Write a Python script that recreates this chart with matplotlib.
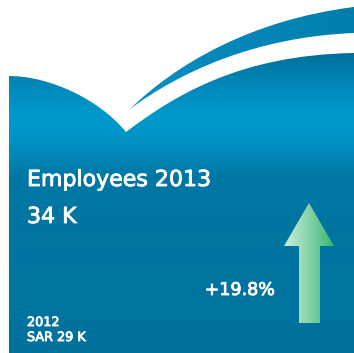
import numpy as np
import matplotlib
matplotlib.use("Agg")
import matplotlib.pyplot as plt
import matplotlib.patheffects as pe
from matplotlib.path import Path
from matplotlib.patches import PathPatch
from matplotlib.colors import LinearSegmentedColormap

# Headline figures
metric_label = "Employees"
current_year = 2013
previous_year = 2012
current_value_k = 34
previous_value_k = 29
growth_pct = 19.8

W, H = 354, 353
fig = plt.figure(figsize=(W / 100, H / 100), dpi=100)
ax = fig.add_axes([0, 0, 1, 1])
ax.set_xlim(0, W)
ax.set_ylim(H, 0)
ax.axis("off")
fig.patch.set_facecolor("white")

# Main panel with curved top edge and notch
panel_verts = [
    (9, 353), (9, 76),
    (50, 76), (100, 100), (126, 132),
    (175, 95), (240, 55), (354, 53),
    (354, 353), (9, 353),
]
panel_codes = [Path.MOVETO, Path.LINETO,
               Path.CURVE4, Path.CURVE4, Path.CURVE4,
               Path.CURVE4, Path.CURVE4, Path.CURVE4,
               Path.LINETO, Path.CLOSEPOLY]
panel_path = Path(panel_verts, panel_codes)
panel_patch = PathPatch(panel_path, facecolor="none", edgecolor="none")
ax.add_patch(panel_patch)

stops = [(0.0, "#006e98"), (0.10, "#0085b6"), (0.22, "#009ace"),
         (0.30, "#0092c4"), (0.42, "#0077a3"), (1.0, "#00729d")]
panel_cmap = LinearSegmentedColormap.from_list("panel", stops)
ys = np.linspace(0, 1, 400).reshape(-1, 1)
img = ax.imshow(ys, cmap=panel_cmap, extent=(9, 354, 353, 50),
                aspect="auto", interpolation="bilinear", zorder=1)
img.set_clip_path(panel_patch)

# Upper swoosh
swoosh_verts = [
    (130, 109),
    (175, 65), (250, 20), (354, 7),
    (354, 33),
    (255, 37), (180, 72), (130, 109),
]
swoosh_codes = [Path.MOVETO,
                Path.CURVE4, Path.CURVE4, Path.CURVE4,
                Path.LINETO,
                Path.CURVE4, Path.CURVE4, Path.CURVE4]
swoosh_patch = PathPatch(Path(swoosh_verts, swoosh_codes),
                         facecolor="none", edgecolor="none")
ax.add_patch(swoosh_patch)
sw_cmap = LinearSegmentedColormap.from_list("sw", ["#0a8fc2", "#007fad"])
xs = np.linspace(0, 1, 300).reshape(1, -1)
sw_img = ax.imshow(xs, cmap=sw_cmap, extent=(125, 354, 115, 0),
                   aspect="auto", interpolation="bilinear", zorder=2)
sw_img.set_clip_path(swoosh_patch)

# Growth arrow with horizontal green gradient
arrow_verts = [(299, 323), (299, 246), (284, 246), (309, 203),
               (334, 246), (320, 246), (320, 323), (299, 323)]
arrow_patch = PathPatch(Path(arrow_verts, closed=True),
                        facecolor="none", edgecolor="none")
ax.add_patch(arrow_patch)
ar_cmap = LinearSegmentedColormap.from_list("ar", ["#cdeedb", "#86d3a7", "#36b772"])
ar_img = ax.imshow(xs, cmap=ar_cmap, extent=(284, 334, 323, 203),
                   aspect="auto", interpolation="bilinear", zorder=3)
ar_img.set_clip_path(arrow_patch)

font = ["DejaVu Sans"]
# thin white stroke gives the labels a medium weight
heavy = [pe.withStroke(linewidth=0.6, foreground="white")]
ax.text(27, 186, f"{metric_label} {current_year}", color="white",
        fontsize=15.9, family=font, va="baseline", ha="left", zorder=5,
        path_effects=heavy)
ax.text(27, 223, f"{current_value_k} K", color="white",
        fontsize=15.9, family=font, va="baseline", ha="left", zorder=5,
        path_effects=heavy)
ax.text(275, 295, f"+{growth_pct}%", color="white",
        fontsize=12.6, family=font, va="baseline", ha="right", zorder=5,
        path_effects=heavy)
ax.text(27, 326, f"{previous_year}", color="white",
        fontsize=9.2, family=font, va="baseline", ha="left", zorder=5,
        path_effects=heavy)
ax.text(27, 341, f"SAR {previous_value_k} K", color="white",
        fontsize=9.2, family=font, va="baseline", ha="left", zorder=5,
        path_effects=heavy)

fig.savefig("out.png", dpi=100, facecolor="white")
